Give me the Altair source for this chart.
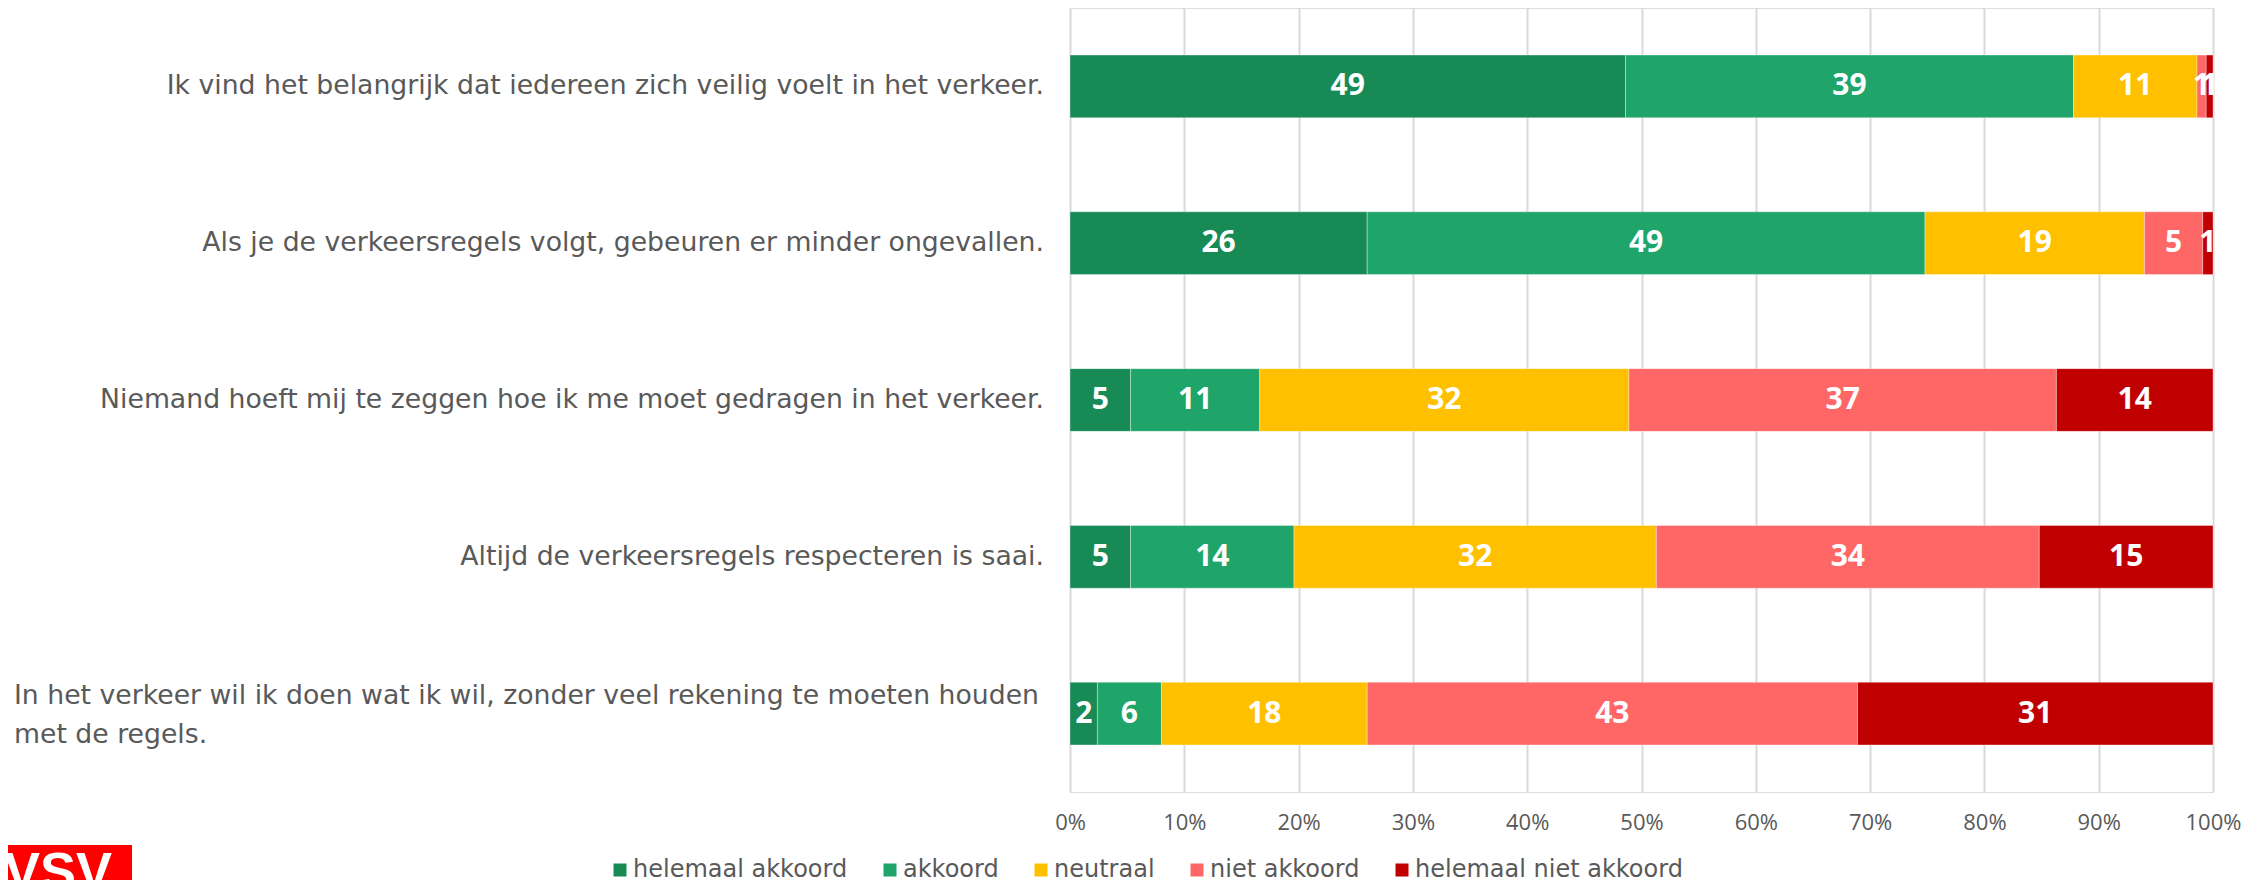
import altair as alt
import pandas as pd

# ---- data -------------------------------------------------------------
items = [
    "Ik vind het belangrijk dat iedereen zich veilig voelt in het verkeer.",
    "Als je de verkeersregels volgt, gebeuren er minder ongevallen.",
    "Niemand hoeft mij te zeggen hoe ik me moet gedragen in het verkeer.",
    "Altijd de verkeersregels respecteren is saai.",
    "In het verkeer wil ik doen wat ik wil, zonder veel rekening te moeten houden met de regels.",
]
item_display = [
    "Ik vind het belangrijk dat iedereen zich veilig voelt in het verkeer.",
    "Als je de verkeersregels volgt, gebeuren er minder ongevallen.",
    "Niemand hoeft mij te zeggen hoe ik me moet gedragen in het verkeer.",
    "Altijd de verkeersregels respecteren is saai.",
    "In het verkeer wil ik doen wat ik wil, zonder veel rekening te moeten houden\nmet de regels.",
]
item_wrapped = [False, False, False, False, True]

categories = ["helemaal akkoord", "akkoord", "neutraal", "niet akkoord", "helemaal niet akkoord"]
colors = ["#178A55", "#1FA56A", "#FFC000", "#FF6666", "#C00000"]

helemaal_akkoord = [48.6, 26.0, 5.3, 5.3, 2.4]
akkoord = [39.2, 48.8, 11.3, 14.3, 5.6]
neutraal = [10.8, 19.2, 32.3, 31.7, 18.0]
niet_akkoord = [0.8, 5.1, 37.4, 33.5, 42.9]
helemaal_niet_akkoord = [0.6, 0.9, 13.7, 15.2, 31.1]

x_ticks = [0, 10, 20, 30, 40, 50, 60, 70, 80, 90, 100]
logo_text = ["VSV"]

series = [helemaal_akkoord, akkoord, neutraal, niet_akkoord, helemaal_niet_akkoord]
rows = []
for ci, (cat, vals) in enumerate(zip(categories, series)):
    for it, v in zip(items, vals):
        rows.append({"item": it, "cat": cat, "order": ci, "value": v})
df = pd.DataFrame(rows)

df_labels = pd.DataFrame({"item": items, "text": item_display, "wrapped": item_wrapped})
df_logo = pd.DataFrame({"logo": logo_text})

FONT = "Open Sans"
LFONT = "DejaVu Sans"
GREY = "#595959"

y_enc = alt.Y("item:N", sort=items,
              scale=alt.Scale(paddingInner=0.6, paddingOuter=0.3), axis=None)

base = alt.Chart(df).transform_stack(
    stack="value", groupby=["item"], as_=["x0", "x1"],
    sort=[alt.SortField("order", order="ascending")]
).transform_calculate(
    mid="(datum.x0 + datum.x1) / 2",
    label="format(datum.value, '.0f')"
)

bars = base.mark_bar(stroke="white", strokeWidth=1, strokeOpacity=0.35).encode(
    x=alt.X("x0:Q", scale=alt.Scale(domain=[0, 100], nice=False),
            axis=alt.Axis(values=x_ticks, labelExpr="datum.value + '%'",
                          grid=True, gridColor="#D9D9D9", gridWidth=2,
                          domain=False, ticks=False, labelFontSize=22,
                          labelFlush=False,
                          labelColor=GREY, labelFont=FONT, labelPadding=20,
                          title=None)),
    x2="x1:Q",
    y=y_enc,
    color=alt.Color("cat:N", scale=alt.Scale(domain=categories, range=colors),
                    legend=alt.Legend(title=None, orient="none", direction="horizontal",
                                      legendX=-462, legendY=850,
                                      symbolType="square", symbolSize=169,
                                      symbolStrokeWidth=0, labelLimit=500,
                                      labelFontSize=24, labelColor=GREY, labelFont=LFONT,
                                      labelOffset=1, columnPadding=30)),
)

seg_text = base.mark_text(color="white", fontWeight="bold", fontSize=30,
                          font=FONT, baseline="middle").encode(
    x=alt.X("mid:Q"),
    y=y_enc,
    text="label:N",
)

ylab_single = alt.Chart(df_labels).transform_filter("!datum.wrapped").mark_text(
    align="right", baseline="middle", fontSize=26.7, font=LFONT, color=GREY
).encode(
    x=alt.value(-26),
    y=y_enc,
    text="text:N",
)

ylab_wrapped = alt.Chart(df_labels).transform_filter("datum.wrapped").mark_text(
    align="left", baseline="middle", fontSize=26.7, font=LFONT, color=GREY,
    lineBreak="\n", lineHeight=39, dy=-18
).encode(
    x=alt.value(-1056),
    y=y_enc,
    text="text:N",
)

logo_box = alt.Chart(df_logo).mark_rect(color="#FF0000").encode(
    x=alt.value(-1070), x2=alt.value(-938),
    y=alt.value(837), y2=alt.value(900),
)
logo_txt = alt.Chart(df_logo).mark_text(
    color="white", fontWeight="bold", fontSize=54, font="Liberation Sans",
    align="left", baseline="alphabetic"
).encode(
    x=alt.value(-1066), y=alt.value(882), text="logo:N"
)

chart = alt.layer(bars, seg_text, ylab_single, ylab_wrapped, logo_box, logo_txt).properties(
    width=1143, height=784,
    autosize=alt.AutoSizeParams(type="none"),
    padding={"left": 1062, "top": 0, "right": 28, "bottom": 88},
).configure_view(stroke=None).configure(background="white")

chart.save("out.html", embed_options={"renderer": "svg", "actions": False})
